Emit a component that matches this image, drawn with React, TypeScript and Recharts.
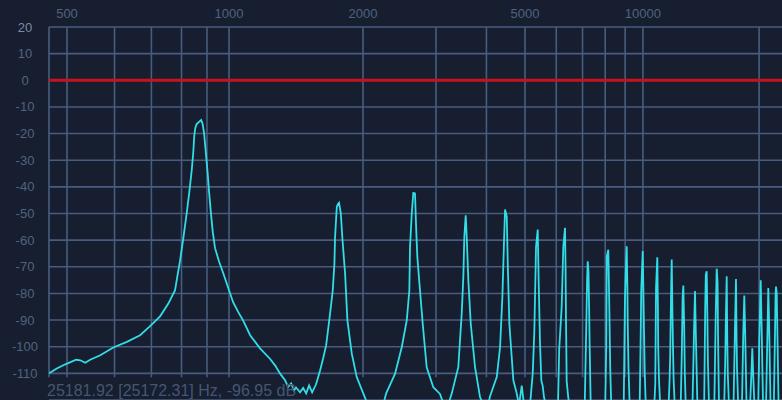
import React from 'react';
import { LineChart, Line, XAxis, YAxis, CartesianGrid, ReferenceLine } from 'recharts';

// Spectrum samples: frequency (Hz) and level (dB)
const freqHz = [
  469, 482, 496, 517, 525, 535, 545, 567, 597, 631, 667, 696, 727, 754, 777, 786, 795,
  807, 819, 829, 838, 844, 848, 852, 857, 867, 876, 882, 888, 895, 903, 909, 916, 925, 935, 953,
  973, 995, 1020, 1046, 1071, 1109, 1165, 1226, 1257, 1290, 1323, 1344, 1365, 1386, 1400, 1430, 1453,
  1476, 1499, 1523, 1555, 1588, 1614, 1640,
  1675, 1699, 1714, 1720, 1736, 1746, 1757, 1774, 1789, 1815, 1838, 1882, 1933, 2004, 2056,
  2233, 2270, 2386, 2476, 2546, 2583, 2593, 2618, 2641, 2666, 2681, 2701, 2742, 2784, 2847, 2955, 3069, 3139,
  3211, 3280, 3405, 3472, 3504, 3524, 3552, 3573, 3606, 3656, 3747, 3856, 3944,
  4036, 4084, 4245, 4327, 4385, 4428, 4454, 4498, 4524, 4566, 4673, 4766, 4830, 4906, 4972,
  5148, 5229, 5278, 5331, 5384, 5415, 5457, 5498, 5541, 5585, 5651,
  6060, 6104, 6193, 6252, 6315, 6335, 6352, 6377, 6436, 6480,
  7090, 7150, 7190, 7216, 7250, 7275, 7300, 7345,
  8000, 8050, 8075, 8147, 8185, 8210, 8240, 8290,
  8925, 8990, 9040, 9084, 9120, 9140, 9180, 9245,
  9810, 9870, 9900, 9988, 10030, 10060, 10110, 10170,
  10700, 10760, 10810, 10891, 10930, 10950, 11000, 11080,
  11650, 11720, 11760, 11820, 11866, 11920, 11950, 12000, 12080,
  12520, 12610, 12660, 12715, 12780, 12830, 12900,
  13430, 13550, 13633, 13700, 13830,
  14400, 14490, 14540, 14619, 14680, 14720, 14820,
  15300, 15420, 15519, 15600, 15640, 15730,
  16230, 16330, 16400, 16474, 16530, 16580, 16700,
  17160, 17300, 17416, 17480, 17520, 17650,
  18050, 18190, 18304, 18400, 18550,
  18950, 19100, 19202, 19300, 19450,
  19900, 20030, 20100, 20192, 20290, 20480,
  20850, 20990, 21060, 21135, 21230, 21420,
  21850, 22000, 22080, 22134, 22230, 22350, 22480,
  22945,
];

const levelDb = [
  -110, -108.2, -106.7, -104.9, -105.1, -106, -104.9, -103.2, -100.3, -98.2, -95.7, -92.3, -88.6, -83.8, -78.8, -73, -67.5,
  -59, -50, -42, -34, -27.5, -21, -18, -16.5, -15.6, -14.9, -16.5, -20, -27, -35, -42, -49, -57, -63, -68,
  -72.5, -77.7, -83.3, -87, -90.1, -95.7, -100.6, -104.6, -107, -110.1, -112.6, -115.1, -113.8, -116.4, -115.3, -117.1, -115.5,
  -117.5, -114.5, -117.1, -114.1, -108.9, -104.4, -99.5,
  -87.5, -78.8, -68.8, -58.8, -47.5, -46.5, -46, -50, -59.4, -72.5, -90.1, -102.6, -111.4, -117.6, -122,
  -122, -117.6, -110.1, -100.2, -90.1, -78.9, -62.6, -50, -42.3, -42.5, -53.8, -66.3, -78.9, -91.4, -107.7, -115.2, -117.7, -122,
  -122, -117.6, -107.7, -87.6, -73.9, -58.8, -50.7, -58.8, -75, -91.4, -107.7, -119, -122,
  -122, -118.6, -111.4, -100.2, -81.4, -60, -48.5, -51.3, -68.8, -91.4, -112.6, -117.6, -122, -114.6, -122,
  -122, -110.1, -94.5, -62.6, -56, -76.3, -98.8, -112.7, -114.6, -119, -122,
  -122, -101, -85, -62.5, -55.4, -70, -90, -113, -119, -122,
  -122, -95, -75, -67.9, -72, -85, -100, -122,
  -122, -100, -66, -63.6, -80, -92, -108, -122,
  -122, -82, -70, -62.3, -78, -92, -108, -122,
  -122, -95, -79, -64.1, -80, -92, -110, -122,
  -122, -114, -78, -66.4, -85, -100, -112, -122,
  -122, -112, -103, -80, -67.3, -88, -98, -112, -122,
  -122, -100, -82, -77, -92, -110, -122,
  -122, -95, -79.1, -95, -122,
  -122, -85, -73, -71.7, -90, -105, -122,
  -122, -90, -70.7, -76, -95, -122,
  -122, -105, -88, -73.6, -97, -110, -122,
  -122, -95, -74.6, -98, -108, -122,
  -122, -95, -80.8, -95, -122,
  -122, -110, -100.6, -110, -122,
  -122, -96, -88, -75.1, -90, -122,
  -122, -100, -90, -78, -90, -122,
  -122, -95, -80, -77.4, -80, -100, -122,
  -122,
];

const gridFreqs = [500, 600, 700, 800, 900, 1000, 2000, 3000, 4000, 5000, 6000, 7000, 8000, 9000, 10000, 20000];
const labeledFreqs = [500, 1000, 2000, 5000, 10000];
const dbTicks = [20, 10, 0, -10, -20, -30, -40, -50, -60, -70, -80, -90, -100, -110];
const freqMin = 469;
const freqMax = 22945;
const dbMin = -120;
const dbMax = 20;
const gridBottomDb = -111.5;
const referenceDb = 0;
const cursorReadout = '25181.92 [25172.31] Hz, -96.95 dB';

const BG = '#161e30';
const GRID = '#485d7e';
const LABEL = '#51637f';
const FONT = '"Liberation Sans", Arial, sans-serif';

// frequency warp of the analyzer's axis
const warp = (f: number) => Math.log(f - 200);
const unwarp = (v: number) => Math.exp(v) + 200;

const spectrum = freqHz.map((f, i) => ({ x: warp(f), db: levelDb[i] }));

const FreqTick = (props: any) => {
  const { x, payload } = props;
  const f = Math.round(unwarp(payload.value));
  if (!labeledFreqs.includes(f)) return <g />;
  return (
    <text x={x} y={18} textAnchor="middle" fill={LABEL} fontSize={13} fontFamily={FONT}>
      {f}
    </text>
  );
};

const DbTick = (props: any) => {
  const { y, payload } = props;
  const top = payload.value === dbMax;
  return (
    <text x={25} y={y + 4.5} textAnchor="middle" fill={top ? '#7f8ba2' : LABEL} fontSize={13} fontFamily={FONT}>
      {payload.value}
    </text>
  );
};

export default function App() {
  const vLines = [freqMin, ...gridFreqs];
  return (
    <div style={{ position: 'absolute', left: 0, top: 0, width: 782, height: 400, background: BG, overflow: 'hidden' }}>
      <LineChart width={782} height={400} data={spectrum} margin={{ top: 0, right: 0, bottom: 0, left: 0 }}>
        <CartesianGrid vertical={false} stroke={GRID} strokeWidth={1.6} />
        <XAxis
          dataKey="x"
          type="number"
          orientation="top"
          height={27}
          domain={[warp(freqMin), warp(freqMax)]}
          ticks={gridFreqs.map(warp)}
          interval={0}
          allowDataOverflow
          axisLine={false}
          tickLine={false}
          tick={<FreqTick />}
        />
        <YAxis
          type="number"
          width={49}
          domain={[dbMin, dbMax]}
          ticks={dbTicks}
          interval={0}
          allowDataOverflow
          axisLine={false}
          tickLine={false}
          tick={<DbTick />}
        />
        {vLines.map((f) => (
          <ReferenceLine
            key={f}
            segment={[{ x: warp(f), y: dbMax }, { x: warp(f), y: gridBottomDb }]}
            stroke={GRID}
            strokeWidth={1.6}
          />
        ))}
        <ReferenceLine y={referenceDb} stroke="#c8121c" strokeWidth={3} />
        <Line
          type="linear"
          dataKey="db"
          stroke="#31dde6"
          strokeWidth={1.8}
          dot={false}
          isAnimationActive={false}
        />
      </LineChart>
      <div
        style={{
          position: 'absolute',
          left: 47,
          top: 383,
          fontFamily: FONT,
          fontSize: 16,
          lineHeight: '16px',
          color: '#465672',
          whiteSpace: 'nowrap',
        }}
      >
        {cursorReadout}
      </div>
    </div>
  );
}
